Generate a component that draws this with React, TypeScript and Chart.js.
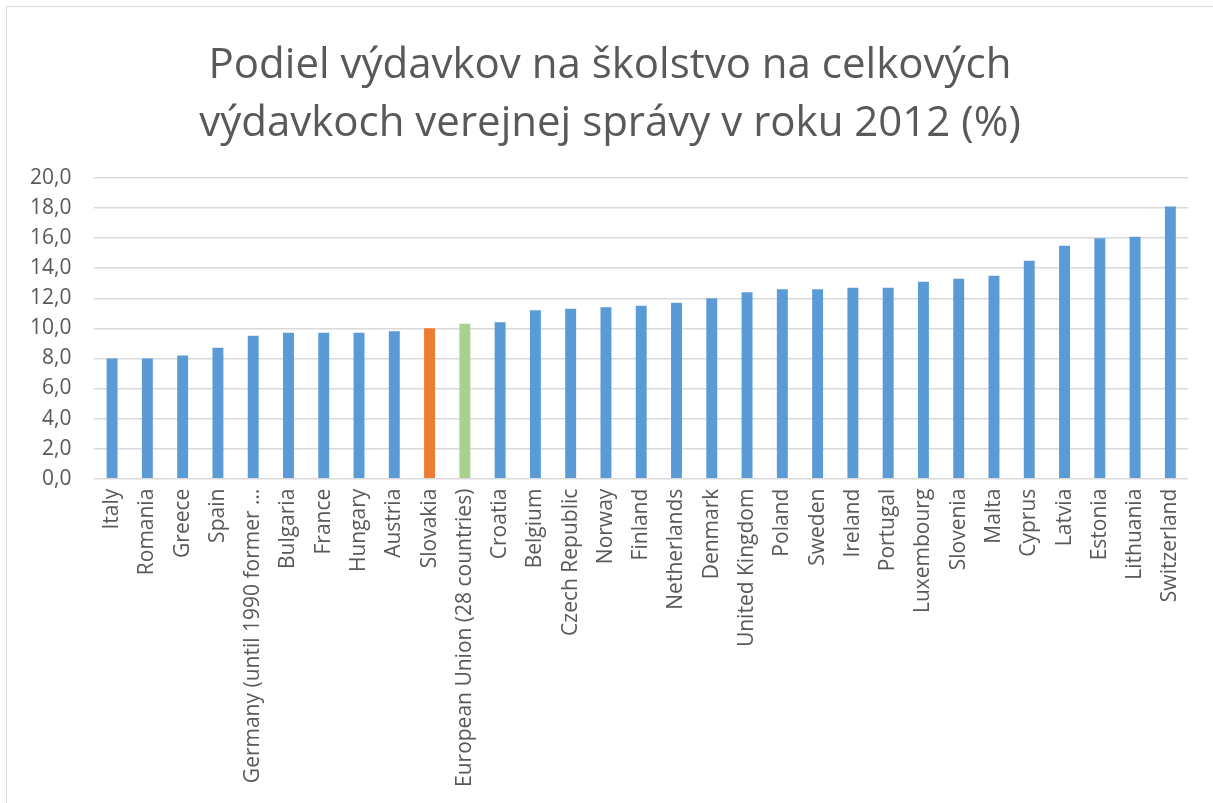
import React, { useEffect, useRef } from "react";
import { Chart, registerables } from "chart.js";

Chart.register(...registerables);

const titleLines = [
  "Podiel výdavkov na školstvo na celkových",
  "výdavkoch verejnej správy v roku 2012 (%)",
];

const categories = [
  "Italy",
  "Romania",
  "Greece",
  "Spain",
  "Germany (until 1990 former …",
  "Bulgaria",
  "France",
  "Hungary",
  "Austria",
  "Slovakia",
  "European Union (28 countries)",
  "Croatia",
  "Belgium",
  "Czech Republic",
  "Norway",
  "Finland",
  "Netherlands",
  "Denmark",
  "United Kingdom",
  "Poland",
  "Sweden",
  "Ireland",
  "Portugal",
  "Luxembourg",
  "Slovenia",
  "Malta",
  "Cyprus",
  "Latvia",
  "Estonia",
  "Lithuania",
  "Switzerland",
];

const values = [
  8.0, 8.0, 8.2, 8.7, 9.5, 9.7, 9.7, 9.7, 9.8, 10.0, 10.3, 10.4, 11.2, 11.3,
  11.4, 11.5, 11.7, 12.0, 12.4, 12.6, 12.6, 12.7, 12.7, 13.1, 13.3, 13.5, 14.5,
  15.5, 16.0, 16.1, 18.1,
];

const highlight: Record<string, string> = {
  Slovakia: "#ed7d31",
  "European Union (28 countries)": "#a9d18e",
};
const defaultColor = "#5b9bd5";

const yMin = 0;
const yMax = 20;
const yStep = 2;

const textColor = "#595959";
const gridColor = "#d9d9d9";
const fontFamily = "'Open Sans', sans-serif";

export default function App() {
  const canvasRef = useRef<HTMLCanvasElement | null>(null);

  useEffect(() => {
    if (!canvasRef.current) return;
    const colors = categories.map((c) => highlight[c] ?? defaultColor);
    const chart = new Chart(canvasRef.current, {
      type: "bar",
      data: {
        labels: categories,
        datasets: [
          {
            data: values,
            backgroundColor: colors,
            borderWidth: 0,
            barPercentage: 0.31,
            categoryPercentage: 1,
          },
        ],
      },
      options: {
        animation: false,
        responsive: false,
        maintainAspectRatio: false,
        layout: { padding: { left: 7, right: 25, top: 0, bottom: 6 } },
        plugins: {
          legend: { display: false },
          tooltip: { enabled: false },
          // empty title box only reserves the space of the HTML title above the plot
          title: {
            display: true,
            text: "",
            font: { size: 10, lineHeight: 1 },
            padding: { top: 168, bottom: 0 },
          },
        },
        scales: {
          x: {
            grid: { display: false, drawTicks: false },
            border: { display: false },
            ticks: {
              color: textColor,
              font: { family: fontFamily, size: 21 },
              minRotation: 90,
              maxRotation: 90,
              autoSkip: false,
              padding: 10,
            },
          },
          y: {
            min: yMin,
            max: yMax,
            grid: { color: gridColor, lineWidth: 1.5, drawTicks: false },
            border: { display: false },
            ticks: {
              stepSize: yStep,
              color: textColor,
              font: { family: fontFamily, size: 21 },
              padding: 23,
              callback: (v) => Number(v).toFixed(1).replace(".", ","),
            },
          },
        },
      },
    });
    return () => chart.destroy();
  }, []);

  return (
    <div
      style={{
        position: "fixed",
        left: 0,
        top: 0,
        width: 1213,
        height: 803,
        background: "#fff",
      }}
    >
      <div
        style={{
          position: "absolute",
          left: 6,
          top: 6,
          width: 1240,
          height: 830,
          border: "1.5px solid #d9d9d9",
        }}
      />
      <canvas
        ref={canvasRef}
        width={1213}
        height={803}
        style={{ position: "absolute", left: 0, top: 0, width: 1213, height: 803 }}
      />
      <div
        style={{
          position: "absolute",
          left: 0,
          top: 33,
          width: 1220,
          textAlign: "center",
          fontFamily,
          fontSize: 42,
          lineHeight: "58px",
          color: textColor,
        }}
      >
        {titleLines.map((t) => (
          <div key={t}>{t}</div>
        ))}
      </div>
    </div>
  );
}
